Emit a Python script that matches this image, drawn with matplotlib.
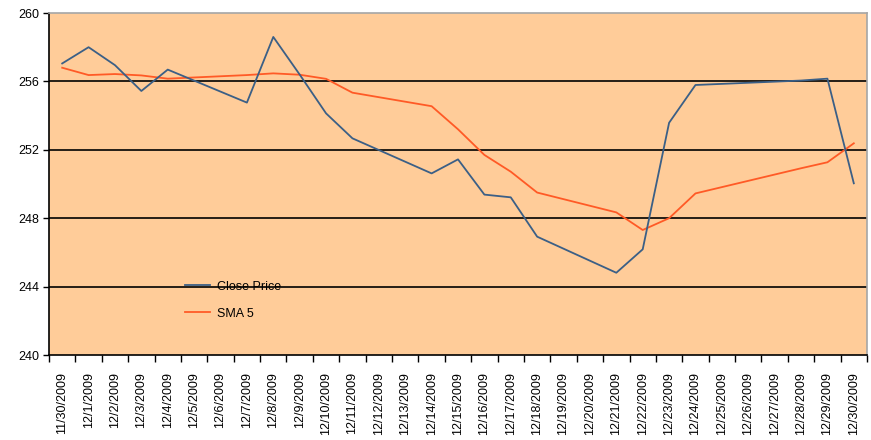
import matplotlib
matplotlib.use("Agg")
import matplotlib.pyplot as plt

plt.rcParams['font.family'] = ['Liberation Sans', 'DejaVu Sans']

# category axis: every calendar day
dates = ['11/30/2009'] + ['12/%d/2009' % d for d in range(1, 31)]

# trading days only
close_dates = ['11/30/2009', '12/1/2009', '12/2/2009', '12/3/2009', '12/4/2009',
               '12/7/2009', '12/8/2009', '12/9/2009', '12/10/2009', '12/11/2009',
               '12/14/2009', '12/15/2009', '12/16/2009', '12/17/2009', '12/18/2009',
               '12/21/2009', '12/22/2009', '12/23/2009', '12/24/2009',
               '12/28/2009', '12/29/2009', '12/30/2009']
close_price = [257.05, 258.0, 256.95, 255.44, 256.69,
               254.76, 258.6, 256.4, 254.13, 252.67,
               250.62, 251.44, 249.38, 249.22, 246.92,
               244.81, 246.18, 253.58, 255.79,
               256.05, 256.16, 250.04]
sma5 = [256.8, 256.37, 256.43, 256.35, 256.16,
        256.37, 256.47, 256.39, 256.15, 255.34,
        254.55, 253.2, 251.7, 250.72, 249.5,
        248.34, 247.31, 248.0, 249.45,
        250.92, 251.27, 252.38]

yticks = [240, 244, 248, 252, 256, 260]

xpos = [dates.index(d) for d in close_dates]

fig = plt.figure(figsize=(8.71, 4.40), dpi=100)
ax = fig.add_axes([49 / 871, 85 / 440, 818 / 871, 342 / 440])
ax.set_facecolor('#FFCC99')

for y in yticks[1:-1]:
    ax.axhline(y, color='black', lw=1.2, zorder=1)

ax.plot(xpos, close_price, color='#3B5F86', lw=1.3, label='Close Price', zorder=3)
ax.plot(xpos, sma5, color='#FF5A26', lw=1.3, label='SMA 5', zorder=2)

ax.set_xlim(-0.5, len(dates) - 0.5)
ax.set_ylim(240, 260)
ax.set_yticks(yticks)
ax.tick_params(axis='y', direction='out', length=4, width=1, labelsize=9, pad=3)

ax.set_xticks(range(len(dates)))
ax.set_xticklabels(dates, rotation=90, fontsize=9, va='top')
ax.tick_params(axis='x', which='major', length=0, pad=12)
ax.set_xticks([i - 0.5 for i in range(len(dates) + 1)], minor=True)
ax.tick_params(axis='x', which='minor', direction='out', length=5, width=1)

for s in ['top', 'right']:
    ax.spines[s].set_color('#A6A6A6')
    ax.spines[s].set_linewidth(1.2)
for s in ['left', 'bottom']:
    ax.spines[s].set_color('black')
    ax.spines[s].set_linewidth(1.2)

ax.legend(loc='upper left', bbox_to_anchor=(0.153, 0.25), frameon=False,
          fontsize=9, handlelength=2.0, handletextpad=0.5, labelspacing=1.2)

fig.savefig('out.png', dpi=100)
